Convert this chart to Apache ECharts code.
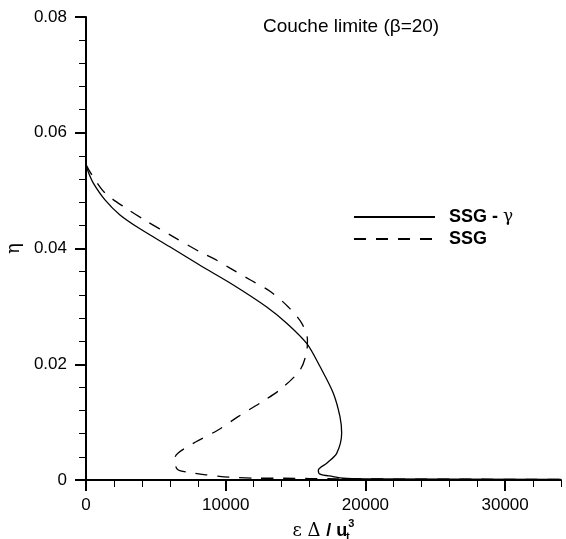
<!DOCTYPE html>
<html>
<head>
<meta charset="utf-8">
<script src="https://cdn.jsdelivr.net/npm/echarts@6/dist/echarts.min.js"></script>
<style>
  html, body { margin: 0; padding: 0; background: #fff; }
  #main { width: 566px; height: 539px; }
</style>
</head>
<body>
<div id="main"></div>
<script>
// x ticks / y ticks
var xMajorTicks = [0, 10000, 20000, 30000];
var seriesNames = ['SSG - γ', 'SSG'];

// [ε Δ / u_t^3 , η], from the top of the layer downward
var ssgGamma = [
  [0, 0.0545], [200, 0.0530], [523, 0.0513], [1360, 0.0484], [2434, 0.0458],
  [3865, 0.0434], [6000, 0.0403], [8160, 0.0371], [10544, 0.0337], [12935, 0.0299],
  [14367, 0.0271], [15798, 0.0236], [16750, 0.0196], [17702, 0.0150], [18182, 0.0109],
  [18300, 0.0081], [17944, 0.0046], [17230, 0.0029], [16630, 0.0017], [16750, 0.0010],
  [17680, 0.0006], [18400, 0.0003], [20000, 0.0002], [34000, 0.0001]
];
var ssg = [
  [0, 0.0545], [400, 0.0528], [1360, 0.0496], [2840, 0.0470], [4345, 0.0447],
  [6200, 0.0421], [8160, 0.0394], [9112, 0.0383], [10308, 0.0366], [11740, 0.0346],
  [13171, 0.0326], [14482, 0.0299], [15437, 0.0271], [15850, 0.0242], [15800, 0.0222],
  [15319, 0.0190], [13887, 0.0156], [12455, 0.0133], [10858, 0.0109], [9425, 0.0086],
  [7874, 0.0066], [6560, 0.0046], [6323, 0.0035], [6560, 0.0018], [7395, 0.0013],
  [8590, 0.0009], [10260, 0.0005], [12170, 0.0003], [14000, 0.0003], [18000, 0.0002],
  [34000, 0.0001]
];

var font = 'Liberation Sans, Arial, sans-serif';
var chart = echarts.init(document.getElementById('main'), null, { renderer: 'canvas' });

chart.setOption({
  animation: false,
  backgroundColor: '#fff',
  textStyle: { fontFamily: font, color: '#000' },
  title: {
    text: 'Couche limite (β=20)',
    left: 263,
    top: 17,
    padding: 0,
    textStyle: { fontSize: 19, fontWeight: 'normal', color: '#000', fontFamily: font }
  },
  legend: {
    orient: 'vertical',
    left: 348,
    top: 203,
    itemWidth: 81,
    itemHeight: 14,
    itemGap: 4,
    data: seriesNames,
    itemStyle: { color: 'rgba(0,0,0,0)', borderWidth: 0 },
    formatter: function (name) {
      if (name === 'SSG - γ') return '{b|SSG - }{g|γ}';
      return '{b|' + name + '}';
    },
    textStyle: {
      padding: [0, 0, 0, 9],
      rich: {
        b: { fontSize: 18, fontWeight: 'bold', color: '#000', fontFamily: font },
        g: { fontSize: 17, color: '#000', fontFamily: 'DejaVu Serif' }
      }
    }
  },
  grid: { left: 86, right: 5, top: 17, bottom: 59, containLabel: false, outerBoundsMode: 'none' },
  xAxis: [
    {
      type: 'value',
      min: 0,
      max: 34000,
      interval: 10000,
      name: '{g|ε Δ }{b|/ u}{sub|t}{sup|3}',
      nameLocation: 'middle',
      nameGap: 27,
      nameTextStyle: {
        rich: {
          g: { fontSize: 18, color: '#000', fontFamily: 'DejaVu Serif', lineHeight: 24 },
          b: { fontSize: 18, fontWeight: 'bold', color: '#000', fontFamily: font, lineHeight: 24 },
          sub: { fontSize: 11, fontWeight: 'bold', color: '#000', fontFamily: font, verticalAlign: 'bottom', width: 1 },
          sup: { fontSize: 11, fontWeight: 'bold', color: '#000', fontFamily: font, verticalAlign: 'top' }
        }
      },
      axisLine: { onZero: false, lineStyle: { color: '#000', width: 2 } },
      axisTick: { customValues: xMajorTicks, length: 11, lineStyle: { color: '#000', width: 2 } },
      axisLabel: {
        customValues: xMajorTicks, margin: 17, fontSize: 17, color: '#000', fontFamily: font,
        formatter: function (v) { return String(v); }
      },
      splitLine: { show: false }
    },
    {
      // minor ticks every 2000
      type: 'value',
      position: 'bottom',
      min: 0,
      max: 34000,
      interval: 2000,
      axisLine: { show: false },
      axisTick: { length: 7, lineStyle: { color: '#000', width: 1 } },
      axisLabel: { show: false },
      splitLine: { show: false }
    }
  ],
  yAxis: {
    type: 'value',
    min: 0,
    max: 0.08,
    interval: 0.02,
    name: 'η',
    nameLocation: 'middle',
    nameGap: 63,
    nameTextStyle: { fontSize: 18, color: '#000', fontFamily: 'DejaVu Serif' },
    axisLine: { onZero: false, lineStyle: { color: '#000', width: 2 } },
    axisTick: { length: 11, lineStyle: { color: '#000', width: 2 } },
    minorTick: { show: true, splitNumber: 5, length: 7, lineStyle: { color: '#000', width: 1 } },
    axisLabel: {
      margin: 19, fontSize: 17, color: '#000', fontFamily: font,
      formatter: function (v) { return v === 0 ? '0' : v.toFixed(2); }
    },
    splitLine: { show: false },
    minorSplitLine: { show: false }
  },
  series: [
    {
      name: seriesNames[0],
      type: 'line',
      data: ssgGamma,
      symbol: 'none',
      smooth: 0.3,
      lineStyle: { color: '#000', width: 1.3, type: 'solid' },
      itemStyle: { color: '#000' }
    },
    {
      name: seriesNames[1],
      type: 'line',
      data: ssg,
      symbol: 'none',
      smooth: 0.3,
      lineStyle: { color: '#000', width: 1.3, type: [12, 10] },
      itemStyle: { color: '#000' }
    }
  ]
});
</script>
</body>
</html>
